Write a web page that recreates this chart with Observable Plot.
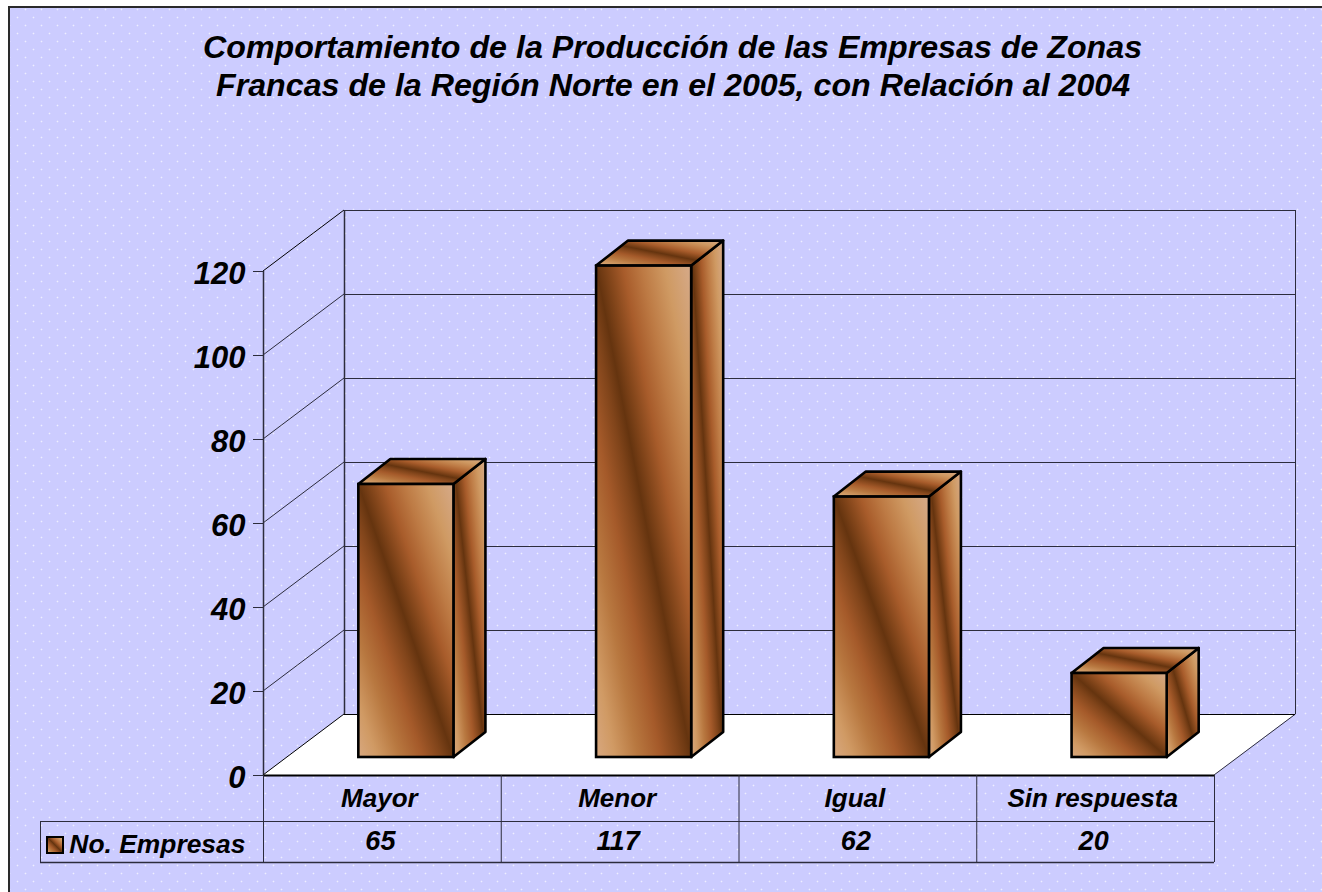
<!DOCTYPE html>
<html><head><meta charset="utf-8">
<script src="https://cdn.jsdelivr.net/npm/d3@7"></script>
<script src="https://cdn.jsdelivr.net/npm/@observablehq/plot@0.6"></script>
<style>
html,body{margin:0;padding:0;background:#fff;}
#wrap{position:relative;width:1322px;height:892px;overflow:hidden;font-family:"Liberation Sans",Arial,sans-serif;}
#wrap svg{position:absolute;left:0;top:0;}
.t{position:absolute;white-space:nowrap;font-weight:bold;font-style:italic;font-size:32.2px;line-height:36px;color:#000;z-index:2;margin:0;}
</style></head><body>
<div id="wrap">
<h1 class="t" style="left:203px;top:29px">Comportamiento de la Producción de las Empresas de Zonas</h1>
<h2 class="t" style="left:216px;top:67px">Francas de la Región Norte en el 2005, con Relación al 2004</h2>
</div>
<script>
const categories = ["Mayor","Menor","Igual","Sin respuesta"];
const empresas = [65,117,62,20];
const yTicks = [0,20,40,60,80,100,120];
const seriesName = "No. Empresas";
const rows = categories.map((c,i)=>({c,v:empresas[i]}));

const FONT = '"Liberation Sans",Arial,sans-serif';
const LINE = "#2c2c3c";
const wall = {dx:81, dy:-61};       // full depth of the 3-D floor
const gap = {dx:24, dy:-18};        // front of the bars relative to the front of the floor
const bar = {dx:32, dy:-25};        // depth of each bar
const NS = "http://www.w3.org/2000/svg";
const el = (n,a,p)=>{const e=document.createElementNS(NS,n);for(const k in a)e.setAttribute(k,a[k]);if(p)p.appendChild(e);return e;};
const stops = [[0,"#d8a880"],[.1,"#d09a64"],[.22,"#b87840"],[.34,"#a55a2a"],[.44,"#80441a"],[.5,"#65340f"],[.56,"#82451a"],[.64,"#a85c2b"],[.74,"#bd7a44"],[.86,"#cf9a63"],[1,"#d6aa8a"]];
const edges = x => { const pad=(x.step()-x.bandwidth())/2, l=x(categories[0])-pad; return d3.range(categories.length+1).map(i=>l+i*x.step()); };

function background(index,{},values,{width,height}){
  const g=el("g",{});
  const defs=el("defs",{},g);
  const p=el("pattern",{id:"dots",width:16,height:16,patternUnits:"userSpaceOnUse"},defs);
  el("rect",{width:16,height:16,fill:"#ccccff"},p);
  for(const [a,b] of [[1,1],[9,9]]){
    el("rect",{x:a-1,y:b,width:3,height:1,fill:"#d6d6ff"},p);
    el("rect",{x:a,y:b-1,width:1,height:3,fill:"#d6d6ff"},p);
    el("rect",{x:a,y:b,width:1,height:1,fill:"#eeeeff"},p);
  }
  const lg=el("linearGradient",{id:"wood",x1:0,y1:1,x2:1,y2:0},defs);
  stops.forEach(([o,c])=>el("stop",{offset:o,"stop-color":c},lg));
  el("rect",{x:9,y:7,width:width,height:height,fill:"url(#dots)",stroke:"#2a2a2a","stroke-width":2},g);
  return g;
}
function walls(index,{x,y}){
  const g=el("g",{fill:"none"});
  const e=edges(x), x0=e[0], x1=e[e.length-1], y0=y(0);
  el("path",{d:`M${x0},${y0}L${x0+wall.dx},${y0+wall.dy}L${x1+wall.dx},${y0+wall.dy}L${x1},${y0}Z`,fill:"#fff",stroke:"none"},g);
  for(const t of yTicks)
    el("path",{d:`M${x0},${y(t)}L${x0+wall.dx},${y(t)+wall.dy}`,stroke:t==0||t==120?"#000":LINE},g);
  el("path",{d:`M${x0+.5},${y(120)}V${y0}`,stroke:LINE,"stroke-width":1.5},g);
  el("path",{d:`M${x0+wall.dx+.5},${y(120)+wall.dy}V${y0+wall.dy}`,stroke:LINE,"stroke-width":1.5},g);
  el("path",{d:`M${x1+wall.dx+.5},${y(120)+wall.dy}V${y0+wall.dy}L${x1},${y0}`,stroke:LINE},g);
  return g;
}
function table(index,{x,y}){
  const g=el("g",{stroke:LINE,fill:"none"});
  const y0=y(0), r1=y0+46, r2=y0+87, xs=edges(x);
  xs.forEach(v=>el("path",{d:`M${v+.5},${y0}V${r2}`},g));
  el("path",{d:`M${xs[0]-223},${r1+.5}H${xs[4]}`},g);
  el("path",{d:`M${xs[0]-223},${r2+.5}H${xs[4]}`,"stroke-width":1.5},g);
  el("path",{d:`M${xs[0]-223+.5},${r1}V${r2}`},g);
  el("rect",{x:xs[0]-216,y:r1+16,width:16,height:16,fill:"url(#wood)",stroke:"#000","stroke-width":2},g);
  return g;
}
function sides(index,{x,y}){
  const g=el("g",{fill:"url(#wood)",stroke:"#000","stroke-width":2.6,"stroke-linejoin":"round"});
  for(const d of rows){
    const l=x(d.c)+gap.dx, r=l+x.bandwidth(), b=y(0)+gap.dy, t=b-(y(0)-y(d.v));
    el("path",{d:`M${r},${t}L${r+bar.dx},${t+bar.dy}V${b+bar.dy}L${r},${b}Z`},g);
    el("path",{d:`M${l},${t}L${l+bar.dx},${t+bar.dy}H${r+bar.dx}L${r},${t}Z`},g);
  }
  return g;
}

const plot = Plot.plot({
  width:1322,height:892,
  marginLeft:263,marginRight:108,marginTop:271,marginBottom:117,
  style:{background:"transparent",fontFamily:FONT,overflow:"visible"},
  x:{type:"band",domain:categories,paddingInner:.6,paddingOuter:.3,round:false,label:null},
  y:{domain:[0,120],label:null},
  marks:[
    background,
    walls,
    Plot.ruleY(yTicks,{stroke:d=>d==0?"#000":LINE,strokeOpacity:1,dx:wall.dx,dy:wall.dy}),
    Plot.ruleY([0],{stroke:"#000",strokeWidth:2}),
    Plot.axisY({ticks:yTicks,tickSize:10,text:null,stroke:LINE,label:null}),
    Plot.axisY({ticks:yTicks,tickSize:0,tickPadding:18,dy:2.5,fontSize:31,fontWeight:"bold",fontStyle:"italic",fill:"#000",label:null,tickFormat:d=>d}),
    sides,
    Plot.barY(rows,{x:"c",y:"v",dx:gap.dx,dy:gap.dy,fill:"url(#wood)",stroke:"#000",strokeWidth:2.6}),
    table,
    Plot.axisX({anchor:"bottom",tickSize:0,tickPadding:13,dx:-3,fontSize:26,fontWeight:"bold",fontStyle:"italic",fill:"#000",label:null}),
    Plot.text(rows,{x:"c",y:()=>0,text:d=>String(d.v),dx:-2,dy:65.5,fontSize:27,fontWeight:"bold",fontStyle:"italic",fill:"#000"}),
    Plot.text([seriesName],{x:()=>categories[0],y:()=>0,text:d=>d,dx:-137,dy:69,textAnchor:"end",fontSize:26.4,fontWeight:"bold",fontStyle:"italic",fill:"#000"})
  ]
});
document.getElementById("wrap").prepend(plot);
</script>
</body></html>
